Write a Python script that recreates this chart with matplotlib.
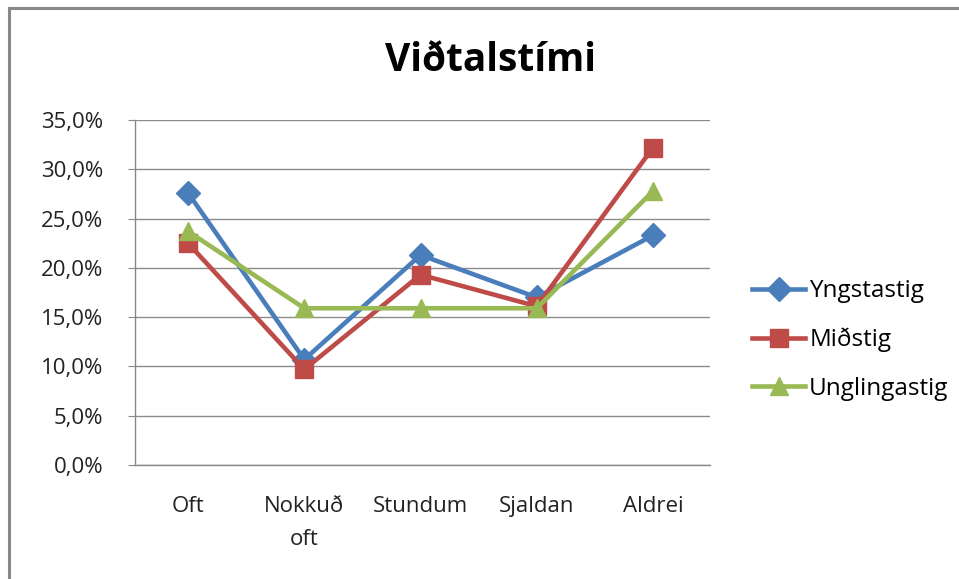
import matplotlib.pyplot as plt
from matplotlib.lines import Line2D
from matplotlib.ticker import FuncFormatter

categories = ['Oft', 'Nokkuð\noft', 'Stundum', 'Sjaldan', 'Aldrei']
yngstastig = [27.6, 10.7, 21.3, 17.0, 23.3]
midstig = [22.5, 9.7, 19.3, 16.1, 32.2]
unglingastig = [23.7, 15.9, 15.9, 15.9, 27.8]

series = [
    ('Yngstastig', yngstastig, '#4a7ebb', 'D', 12.5),
    ('Miðstig', midstig, '#be4b48', 's', 13.5),
    ('Unglingastig', unglingastig, '#98b954', '^', 13.5),
]

plt.rcParams['font.family'] = ['Open Sans', 'DejaVu Sans']

fig = plt.figure(figsize=(9.59, 5.79), dpi=100)
ax = fig.add_axes([0.1408, 0.1969, 0.5996, 0.5959])

x = range(len(categories))
for name, vals, color, marker, ms in series:
    ax.plot(x, vals, color=color, marker=marker, markersize=ms, linewidth=3.3,
            label=name, solid_joinstyle='miter')

ax.set_xlim(-0.456, 4.49)
ax.set_ylim(0, 35)
ax.set_yticks(range(0, 36, 5))
ax.yaxis.set_major_formatter(FuncFormatter(lambda v, p: ('%.1f%%' % v).replace('.', ',')))
ax.set_xticks(list(x))
ax.set_xticklabels(categories, fontsize=16, color='#222222', linespacing=1.75)
ax.tick_params(axis='y', labelsize=16, labelcolor='#222222', length=5, color='#888888', pad=18)
ax.tick_params(axis='x', length=0, pad=22)
ax.grid(axis='y', color='#8c8c8c', linewidth=1)
ax.set_axisbelow(True)
for s in ['top', 'right']:
    ax.spines[s].set_visible(False)
for s in ['left', 'bottom']:
    ax.spines[s].set_color('#888888')
    ax.spines[s].set_linewidth(1)

fig.text(0.511, 0.895, 'Viðtalstími', ha='center', va='center', fontsize=28, fontweight='bold')

ax.legend(loc='center left', bbox_to_anchor=(1.073, 0.362), frameon=False, fontsize=17.5,
          handlelength=2.2, labelspacing=1.0, handletextpad=0.15, borderpad=0,
          borderaxespad=0)

# outer chart border (top and left visible)
fig.add_artist(Line2D([0.0094, 1.0], [0.986, 0.986], color='#888888', linewidth=2.2,
                      transform=fig.transFigure))
fig.add_artist(Line2D([0.0094, 0.0094], [0.0, 0.986], color='#888888', linewidth=2.2,
                      transform=fig.transFigure))

fig.savefig('out.png', dpi=100)
